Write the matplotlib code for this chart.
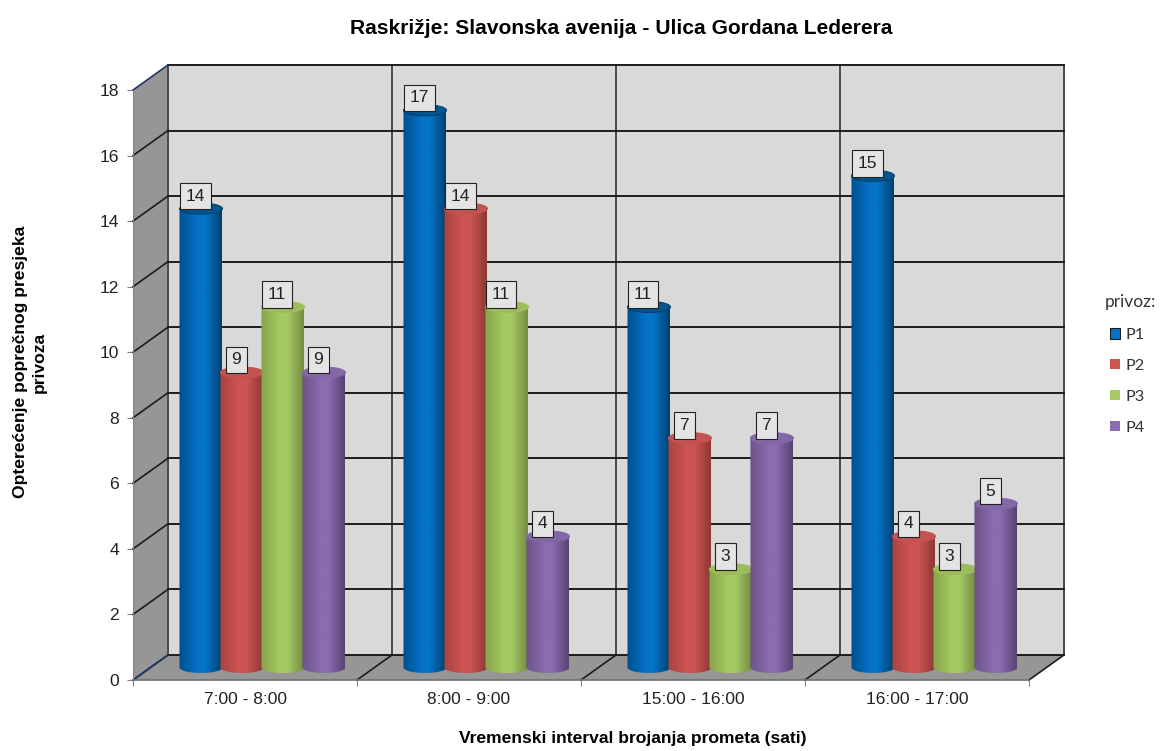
import numpy as np
import matplotlib
matplotlib.use('Agg')
import matplotlib.pyplot as plt
from matplotlib.path import Path
from matplotlib.patches import Polygon, Rectangle, Ellipse
from matplotlib.colors import LinearSegmentedColormap

plt.rcParams['font.family'] = ['Liberation Sans', 'DejaVu Sans']

# data
intervals = ['7:00 - 8:00', '8:00 - 9:00', '15:00 - 16:00', '16:00 - 17:00']
series_names = ['P1', 'P2', 'P3', 'P4']
p1 = [14, 17, 11, 15]
p2 = [9, 14, 7, 4]
p3 = [11, 11, 3, 3]
p4 = [9, 4, 7, 5]
y_ticks = [0, 2, 4, 6, 8, 10, 12, 14, 16, 18]

# colours: edge left, centre, edge right, top of the cylinder, rim of the top
bar_colors = {
    'P1': ['#00508f', '#0474c8', '#00406f', '#00568f', '#003a68'],
    'P2': ['#ab4340', '#cb5551', '#8e3835', '#c4524f', '#c4524f'],
    'P3': ['#87a34c', '#a6c964', '#748c40', '#9dbd5b', '#9dbd5b'],
    'P4': ['#6c5389', '#8b6cb0', '#574370', '#8467a7', '#8467a7'],
}

W, H = 1163, 751
# one category is 224 px, one y unit 32.72 px, 3d depth 35 x 25 px
px_x = 1 / 224
px_y = 1 / 32.72
depth_x = 35 * px_x
depth_y = 25 * px_y
n = len(intervals)
y_max = y_ticks[-1]

fig = plt.figure(figsize=(W / 100, H / 100), dpi=100)
ax = fig.add_axes([133 / W, 1 - 680 / H, (1064 - 133) / W, (680 - 65) / H])
ax.set_xlim(0, n + depth_x)
ax.set_ylim(0, y_max + depth_y)
for s in ax.spines.values():
    s.set_visible(False)
ax.patch.set_visible(False)

# walls
ax.add_patch(Polygon([(0, 0), (depth_x, depth_y), (depth_x, y_max + depth_y), (0, y_max)],
                     fc='#969696', ec='none', zorder=1))
ax.add_patch(Rectangle((depth_x, depth_y), n, y_max, fc='#d9d9d9', ec='none', zorder=1))
ax.add_patch(Polygon([(0, 0), (depth_x, depth_y), (n + depth_x, depth_y), (n, 0)],
                     fc='#969696', ec='none', zorder=1))

# grid on the walls
line_col = '#1c1c1c'
for k in range(n + 1):
    ax.plot([k + depth_x, k + depth_x], [depth_y, y_max + depth_y], color='#4a4a4a',
            lw=1.4, zorder=2, clip_on=False)
    ax.plot([k, k + depth_x], [0, depth_y], color=line_col, lw=1.2, zorder=2, clip_on=False)
for v in y_ticks:
    ax.plot([depth_x, n + depth_x], [v + depth_y, v + depth_y], color=line_col,
            lw=1.4, zorder=2, clip_on=False)
    diag = '#1f3864' if v in (y_ticks[0], y_ticks[-1]) else line_col
    ax.plot([0, depth_x], [v, v + depth_y], color=diag, lw=1.2, zorder=2, clip_on=False)
ax.plot([0, n], [0, 0], color='#707070', lw=1.2, zorder=2, clip_on=False)
ax.plot([0, 0], [0, y_max], color='#808080', lw=0.8, zorder=2)

# cylinders
bar_w = 43 * px_x
ell_h = 11 * px_y
t = np.linspace(np.pi, 2 * np.pi, 40)
all_series = [p1, p2, p3, p4]
z = 3
for j, (name, vals) in enumerate(zip(series_names, all_series)):
    left, mid, right, top, rim = bar_colors[name]
    cmap = LinearSegmentedColormap.from_list(name, [(0, left), (0.45, mid), (0.62, mid), (1, right)])
    grad = np.linspace(0, 1, 128).reshape(1, -1)
    for i, v in enumerate(vals):
        cx = i + 0.578 + (j - 1.5) * 0.183
        y0 = 12.5 * px_y
        x0, x1 = cx - bar_w / 2, cx + bar_w / 2
        bx = cx + bar_w / 2 * np.cos(t)
        by = y0 + ell_h / 2 * np.sin(t)
        verts = [(x0, y0 + v)] + list(zip(bx, by)) + [(x1, y0 + v), (x0, y0 + v)]
        im = ax.imshow(grad, cmap=cmap, extent=(x0, x1, 0, y0 + v), aspect='auto', zorder=z)
        im.set_clip_path(Path(verts), transform=ax.transData)
        ax.add_patch(Ellipse((cx, y0 + v), bar_w, ell_h, fc=top, ec=rim, lw=0.7, zorder=z + 0.5))
        ax.annotate(str(v), (cx, y0 + v), xytext=(-4.2, 9.0), textcoords='offset points',
                    ha='center', va='center', fontsize=12.5, color='#222222', zorder=20,
                    bbox=dict(boxstyle='square,pad=0.33', fc='#e4e4e4', ec='#222222', lw=0.8))
        z += 1
ax.set_xlim(0, n + depth_x)
ax.set_ylim(0, y_max + depth_y)

# axes ticks
ax.set_yticks(y_ticks)
ax.tick_params(axis='y', length=4, width=0.8, color='#808080', labelsize=12.6, pad=6, labelcolor='#222222')
ax.set_xticks(range(n + 1))
ax.set_xticklabels([])
ax.tick_params(axis='x', which='major', length=4, width=0.8, color='#808080')
ax.set_xticks([k + 0.5 for k in range(n)], intervals, minor=True)
ax.tick_params(axis='x', which='minor', length=0, labelsize=12.5, pad=9, labelcolor='#222222')

# titles
fig.text(621 / W, 1 - 28 / H, 'Raskrižje: Slavonska avenija - Ulica Gordana Lederera',
         ha='center', va='center', fontsize=15.1, fontweight='bold')
fig.text(632.5 / W, 1 - 739 / H, 'Vremenski interval brojanja prometa (sati)',
         ha='center', va='center', fontsize=12.6, fontweight='bold')
fig.text(30 / W, 1 - 362 / H, 'Opterećenje poprečnog presjeka\nprivoza', rotation=90,
         ha='center', va='center', fontsize=12.6, fontweight='bold', linespacing=1.3)

# legend
handles = [Rectangle((0, 0), 1, 1, fc=bar_colors[s][1], ec='#1c1c1c' if s == 'P1' else 'none', lw=0.8)
           for s in series_names]
fig.text(1105 / W, 1 - 302 / H, 'privoz:', family='Lato', fontsize=12.5, color='#333333',
         ha='left', va='center')
leg = fig.legend(handles, series_names, loc='upper left',
                 bbox_to_anchor=(1110 / W, 1 - 328 / H), frameon=False,
                 prop={'family': 'Lato', 'size': 11.7},
                 handlelength=0.62, handleheight=0.62, handletextpad=0.35, labelspacing=1.04,
                 borderpad=0, borderaxespad=0)
for txt in leg.get_texts():
    txt.set_color('#333333')

fig.savefig('out.png', dpi=100)
